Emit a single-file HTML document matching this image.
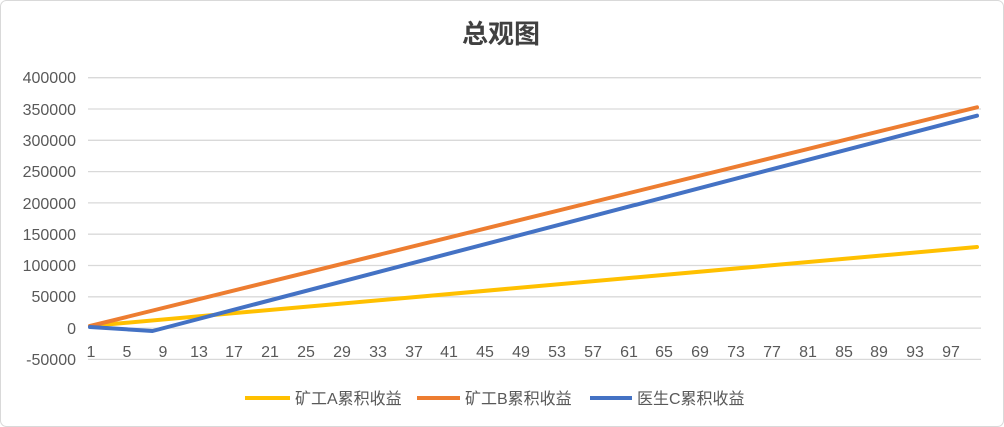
<!DOCTYPE html>
<html><head><meta charset="utf-8"><style>
html,body{margin:0;padding:0;background:#fff;}
svg{display:block;font-family:"Liberation Sans","Noto Sans CJK SC",sans-serif;}
</style></head><body>
<svg width="1004" height="427" viewBox="0 0 1004 427">
<rect x="0.5" y="0.5" width="1003" height="426" rx="6" fill="#fff" stroke="#d9d9d9"/>
<text x="501" y="43" text-anchor="middle" font-size="26" font-weight="bold" fill="#404040">总观图</text>
<g stroke="#d9d9d9" stroke-width="1.3">
<line x1="88" x2="981" y1="77.7" y2="77.7"/>
<line x1="88" x2="981" y1="109" y2="109"/>
<line x1="88" x2="981" y1="140.3" y2="140.3"/>
<line x1="88" x2="981" y1="171.6" y2="171.6"/>
<line x1="88" x2="981" y1="202.9" y2="202.9"/>
<line x1="88" x2="981" y1="234.2" y2="234.2"/>
<line x1="88" x2="981" y1="265.5" y2="265.5"/>
<line x1="88" x2="981" y1="296.8" y2="296.8"/>
<line x1="88" x2="981" y1="328.1" y2="328.1"/>
<line x1="88" x2="981" y1="359.4" y2="359.4"/>
</g>
<g font-size="16" fill="#595959" text-anchor="end">
<text x="76" y="83">400000</text>
<text x="76" y="115">350000</text>
<text x="76" y="146">300000</text>
<text x="76" y="177">250000</text>
<text x="76" y="209">200000</text>
<text x="76" y="240">150000</text>
<text x="76" y="271">100000</text>
<text x="76" y="302">50000</text>
<text x="76" y="334">0</text>
<text x="76" y="365">-50000</text>
</g>
<g font-size="16" fill="#595959" text-anchor="middle">
<text x="91" y="357">1</text><text x="127" y="357">5</text><text x="163" y="357">9</text>
<text x="199" y="357">13</text><text x="234" y="357">17</text><text x="270" y="357">21</text>
<text x="306" y="357">25</text><text x="342" y="357">29</text><text x="378" y="357">33</text>
<text x="414" y="357">37</text><text x="449" y="357">41</text><text x="485" y="357">45</text>
<text x="521" y="357">49</text><text x="557" y="357">53</text><text x="593" y="357">57</text>
<text x="629" y="357">61</text><text x="664" y="357">65</text><text x="700" y="357">69</text>
<text x="736" y="357">73</text><text x="772" y="357">77</text><text x="808" y="357">81</text>
<text x="844" y="357">85</text><text x="879" y="357">89</text><text x="915" y="357">93</text>
<text x="951" y="357">97</text>
</g>
<g fill="none" stroke-width="4" stroke-linecap="round" stroke-linejoin="round">
<polyline stroke="#ffc000" points="90,326 977,247"/>
<polyline stroke="#ed7d31" points="90,326 977,107.3"/>
<polyline stroke="#4472c4" points="90,327 152.5,331 977,115.7"/>
</g>
<g font-size="16" fill="#595959">
<line x1="245" x2="290" y1="398" y2="398" stroke="#ffc000" stroke-width="4"/>
<text x="295" y="404">矿工A累积收益</text>
<line x1="417" x2="460" y1="398" y2="398" stroke="#ed7d31" stroke-width="4"/>
<text x="465" y="404">矿工B累积收益</text>
<line x1="590" x2="632" y1="398" y2="398" stroke="#4472c4" stroke-width="4"/>
<text x="637" y="404">医生C累积收益</text>
</g>
</svg>
</body></html>
